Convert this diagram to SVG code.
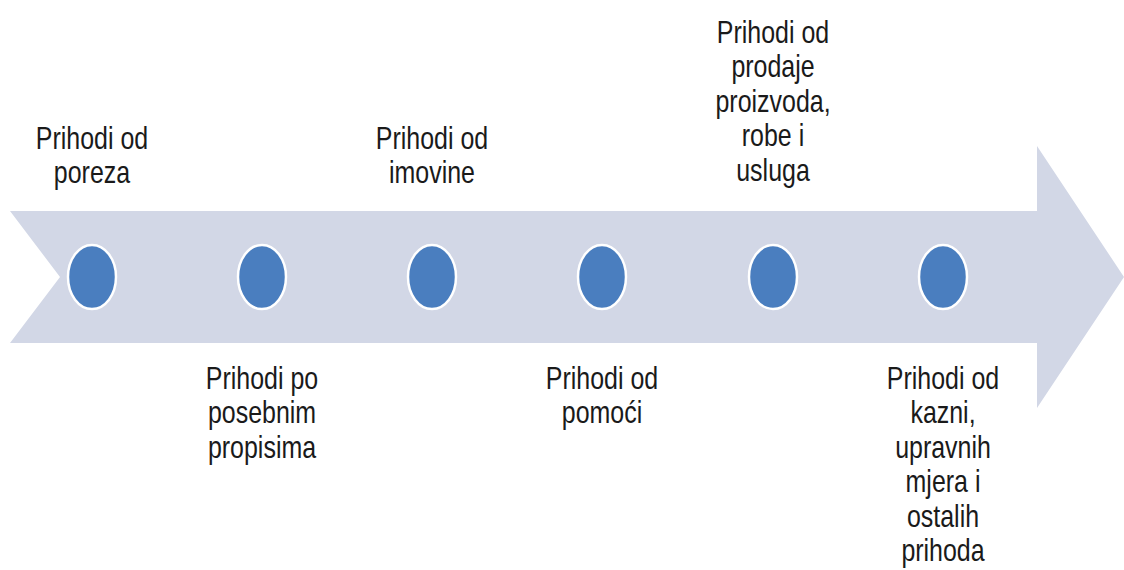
<svg xmlns="http://www.w3.org/2000/svg" width="1124" height="570" viewBox="0 0 1124 570">
<style>
.lbl{font-family:"Liberation Sans",Arial,sans-serif;font-size:32px;fill:#1a1a1a;text-anchor:middle}
.dot{fill:#4a7ebf;stroke:#ffffff;stroke-width:2.5}
</style>
<rect width="1124" height="570" fill="#ffffff"/>
<g id="arrow">
<polygon points="10,211 1037,211 1037,146 1124,277 1037,408 1037,343 10,343 60,277" fill="#d2d7e6"/>
</g>
<g id="connectors"></g>
<g id="n1"><ellipse class="dot" cx="92" cy="277" rx="24" ry="32"/>
<g transform="translate(92,0) scale(0.78,1)"><text class="lbl" x="0" y="149">Prihodi od</text><text class="lbl" x="0" y="183">poreza</text></g></g>
<g id="n2"><ellipse class="dot" cx="262" cy="277" rx="24" ry="32"/>
<g transform="translate(262,0) scale(0.78,1)"><text class="lbl" x="0" y="389">Prihodi po</text><text class="lbl" x="0" y="423.5">posebnim</text><text class="lbl" x="0" y="458">propisima</text></g></g>
<g id="n3"><ellipse class="dot" cx="432" cy="277" rx="24" ry="32"/>
<g transform="translate(432,0) scale(0.78,1)"><text class="lbl" x="0" y="149">Prihodi od</text><text class="lbl" x="0" y="183">imovine</text></g></g>
<g id="n4"><ellipse class="dot" cx="602" cy="277" rx="24" ry="32"/>
<g transform="translate(602,0) scale(0.78,1)"><text class="lbl" x="0" y="389">Prihodi od</text><text class="lbl" x="0" y="423.5">pomoći</text></g></g>
<g id="n5"><ellipse class="dot" cx="773" cy="277" rx="24" ry="32"/>
<g transform="translate(773,0) scale(0.78,1)"><text class="lbl" x="0" y="43">Prihodi od</text><text class="lbl" x="0" y="77.5">prodaje</text><text class="lbl" x="0" y="112">proizvoda,</text><text class="lbl" x="0" y="146.5">robe i</text><text class="lbl" x="0" y="181">usluga</text></g></g>
<g id="n6"><ellipse class="dot" cx="943" cy="277" rx="24" ry="32"/>
<g transform="translate(943,0) scale(0.78,1)"><text class="lbl" x="0" y="389">Prihodi od</text><text class="lbl" x="0" y="423.5">kazni,</text><text class="lbl" x="0" y="458">upravnih</text><text class="lbl" x="0" y="492.5">mjera i</text><text class="lbl" x="0" y="527">ostalih</text><text class="lbl" x="0" y="561.5">prihoda</text></g></g>
</svg>
